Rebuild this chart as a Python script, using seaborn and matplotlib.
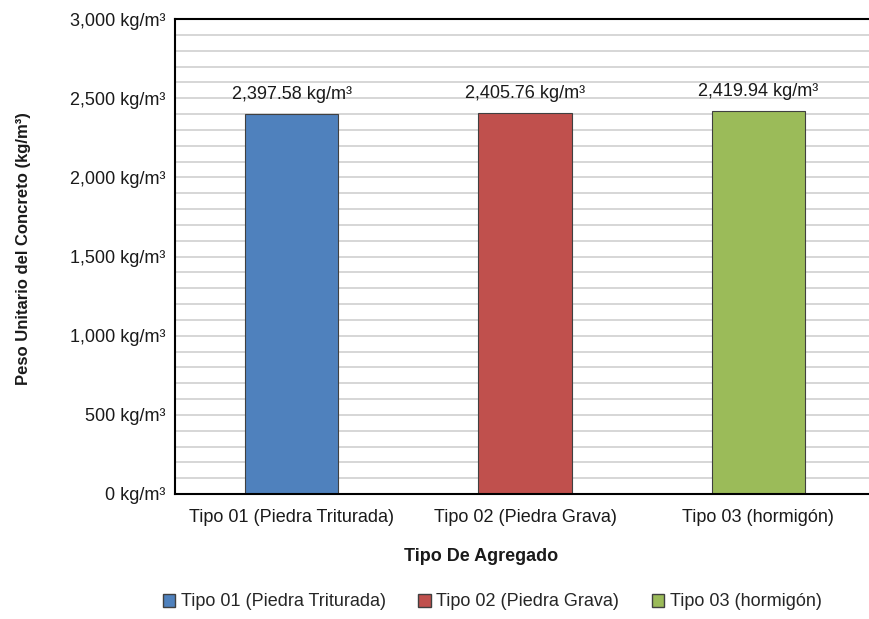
import matplotlib
matplotlib.use("Agg")
import matplotlib.pyplot as plt
import matplotlib.patches as mpatches
from matplotlib.ticker import FuncFormatter, MultipleLocator
import seaborn as sns

# data
categories = ["Tipo 01 (Piedra Triturada)", "Tipo 02 (Piedra Grava)", "Tipo 03 (hormigón)"]
values = [2397.58, 2405.76, 2419.94]
colors = ["#4F81BD", "#C0504D", "#9BBB59"]
y_ticks = [0, 500, 1000, 1500, 2000, 2500, 3000]

sns.set_theme(style="white")
plt.rcParams["font.family"] = ["Liberation Sans", "DejaVu Sans"]

fig = plt.figure(figsize=(8.7, 6.19), dpi=100)
ax = fig.add_axes([175 / 870, 1 - 494 / 619, 700 / 870, 475 / 619])

sns.barplot(x=categories, y=values, hue=categories, palette=colors, ax=ax,
            width=0.4, edgecolor="#404040", linewidth=0.8, legend=False, saturation=1)

ax.set_ylim(0, 3000)
ax.set_yticks(y_ticks)
ax.yaxis.set_minor_locator(MultipleLocator(100))
ax.grid(True, which="both", axis="y", color="#d0d0d0", linewidth=1.2)
ax.set_axisbelow(True)
ax.yaxis.set_major_formatter(FuncFormatter(lambda v, p: f"{v:,.0f} kg/m³"))
ax.tick_params(axis="both", which="both", length=0, labelsize=13, colors="#1a1a1a")
ax.tick_params(axis="y", pad=7)
ax.tick_params(axis="x", pad=11)

for s in ["left", "bottom", "top"]:
    ax.spines[s].set_color("black")
    ax.spines[s].set_linewidth(1.5)
ax.spines["right"].set_visible(False)

for i, v in enumerate(values):
    ax.annotate(f"{v:,.2f} kg/m³", (i, v), xytext=(0, 8), textcoords="offset points",
                ha="center", va="bottom", fontsize=13, color="#1a1a1a")

ax.set_xlabel("Tipo De Agregado", fontsize=13, fontweight="bold", color="#1a1a1a")
ax.xaxis.set_label_coords((481 - 175) / 700, -(548 - 494) / 475)
ax.set_ylabel("Peso Unitario del Concreto (kg/m³)", fontsize=12, fontweight="bold", color="#1a1a1a")
ax.yaxis.set_label_coords(-(175 - 31) / 700, (494 - 249) / 475)

handles = [mpatches.Patch(facecolor=c, edgecolor="#404040", label=l) for c, l in zip(colors, categories)]
fig.legend(handles=handles, loc="center", bbox_to_anchor=(492 / 870, 1 - 602 / 619), ncol=3,
           frameon=False, fontsize=13, handlelength=0.7, handleheight=0.7,
           handletextpad=0.3, columnspacing=1.8)

fig.savefig("out.png", dpi=100)
